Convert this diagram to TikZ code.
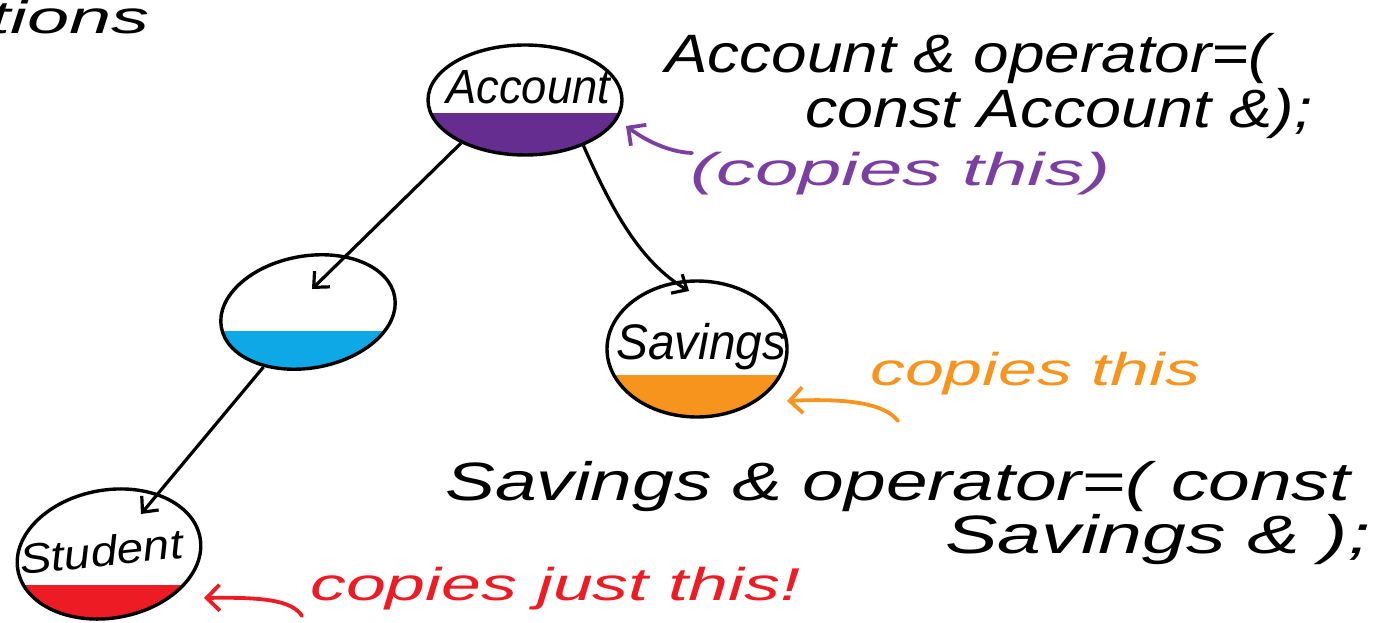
\documentclass[tikz,border=0pt]{standalone}
\usepackage{fontspec}
\setmainfont{Liberation Sans}
\usetikzlibrary{arrows.meta,shapes.geometric,calc}
\definecolor{accpurple}{HTML}{662D91}
\definecolor{notepurple}{HTML}{7A3FA0}
\definecolor{midblue}{HTML}{0EA8E6}
\definecolor{savorange}{HTML}{F7941E}
\definecolor{stured}{HTML}{ED1C24}
% stretch a piece of text to a given width, keeping its height
\newcommand\fitto[2]{\resizebox{#1}{\height}{#2}}

\begin{document}
\begin{tikzpicture}[x=1pt,y=-1pt,
  cls/.style={ellipse, draw=black, line width=3.4pt, inner sep=0pt},
  sz/.style={font=\itshape\fontsize{#1}{#1}\selectfont},
  hand/.style={inner sep=0pt, anchor=base west},
  link/.style={draw=black, line width=3.2pt,
    -{Straight Barb[length=12pt,width=22pt,line width=3.2pt]}},
  note/.style={line width=3.8pt, line cap=round,
    -{Straight Barb[length=13pt,width=26pt,line width=3.8pt]}},
]
\useasboundingbox (0,0) rectangle (1383,623);

% shaded bottoms of the class ellipses (the part each class owns)
\begin{scope}
  \clip (525,100) ellipse [x radius=97, y radius=55];
  \fill[accpurple] (400,113) rectangle (650,170);
\end{scope}
\begin{scope}
  \clip[rotate around={10:(308,312)}] (308,312) ellipse [x radius=88, y radius=56];
  \fill[midblue] (200,331) rectangle (420,390);
\end{scope}
\begin{scope}
  \clip (697,349) ellipse [x radius=90, y radius=68];
  \fill[savorange] (590,375) rectangle (800,430);
\end{scope}
\begin{scope}
  \clip[rotate around={10:(109,554)}] (109,554) ellipse [x radius=92.5, y radius=64];
  \fill[stured] (0,585) rectangle (220,640);
\end{scope}

% class hierarchy
\node[cls, minimum width=194pt, minimum height=110pt] (acc) at (525,100) {};
\node[cls, rotate=10, minimum width=176pt, minimum height=112pt] (mid) at (308,312) {};
\node[cls, minimum width=180pt, minimum height=136pt] (sav) at (697,349) {};
\node[cls, rotate=10, minimum width=185pt, minimum height=128pt] (stu) at (109,554) {};

% class names
\node[hand, sz=48] (acclbl) at (446,104) {\fitto{164pt}{Account}};
\node[hand, sz=50] (savlbl) at (616,359) {\fitto{170pt}{Savings}};
\node[hand, sz=42, rotate=6] (stulbl) at (21,575) {\fitto{164pt}{Student}};

% inheritance arrows
\coordinate (midtip) at (312,289);
\coordinate (savtip) at (689,291);
\coordinate (stutip) at (141,514);
\draw[link] (acc.214) -- (midtip);
\draw[link] (acc.322) .. controls (612,210) and (640,262) .. (savtip);
\draw[link] (mid.221) -- (stutip);

% heading fragment
\node[hand, anchor=base east, sz=46] (head) at (150,34) {\fitto{160pt}{tions}};

% Account operator
\node[hand, sz=54] (accop1) at (665,73) {\fitto{605pt}{Account \& operator=(}};
\node[hand, sz=54] (accop2) at (805,128) {\fitto{507pt}{const Account \&);}};
\coordinate (ptail) at (692,153);
\coordinate (ptip) at (626,126);
\draw[note, notepurple] (ptail) .. controls (668,152) and (645,140) .. (ptip);
\node[hand, sz=46, text=notepurple] (pnote) at (690,185) {\fitto{420pt}{(copies this)}};

% Savings operator
\coordinate (otail) at (898,421);
\coordinate (otip) at (787,401);
\draw[note, savorange] (otail) .. controls (885,404) and (850,398) .. (otip);
\node[hand, sz=46, text=savorange] (onote) at (870,385) {\fitto{330pt}{copies this}};
\node[hand, sz=54] (savop1) at (445,500) {\fitto{905pt}{Savings \& operator=( const}};
\node[hand, sz=54] (savop2) at (945,553) {\fitto{425pt}{Savings \& );}};

% Student note
\coordinate (rtail) at (302,616);
\coordinate (rtip) at (204,598);
\draw[note, stured] (rtail) .. controls (292,600) and (262,597) .. (rtip);
\node[hand, sz=46, text=stured] (rnote) at (310,600) {\fitto{490pt}{copies just this!}};
\end{tikzpicture}
\end{document}
